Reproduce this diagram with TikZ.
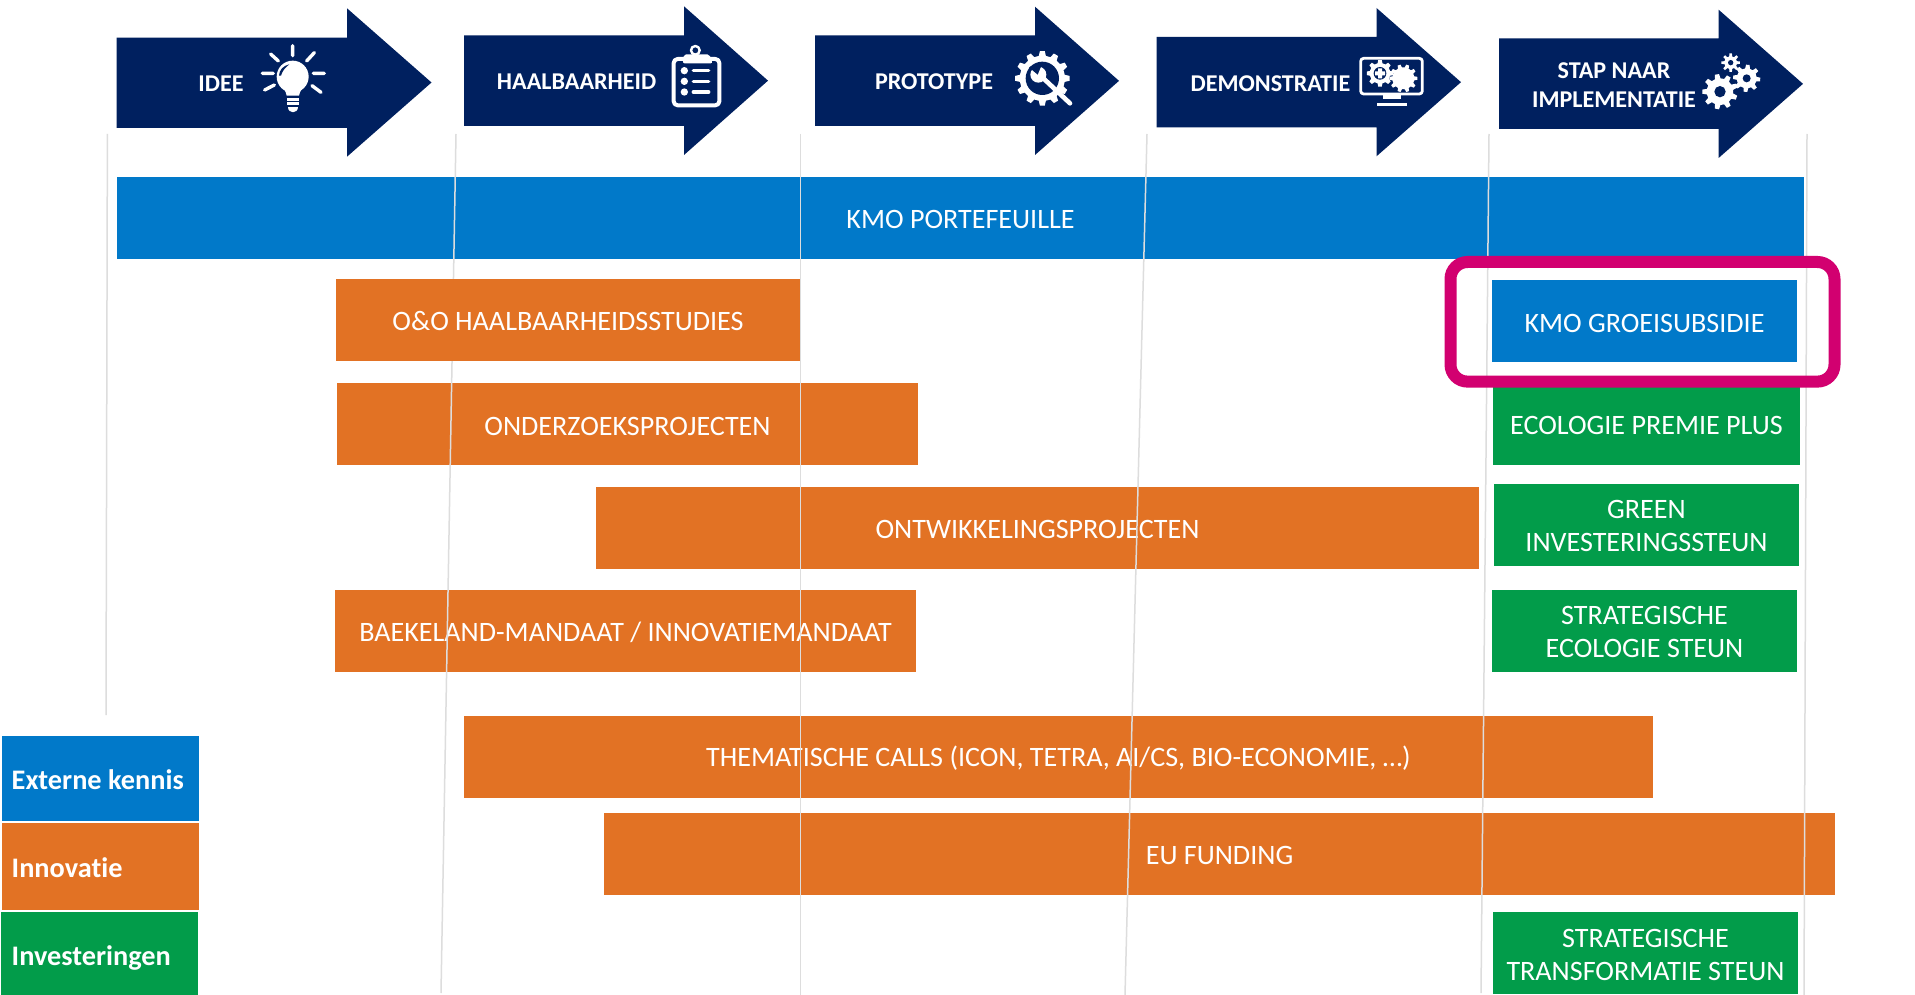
\documentclass[tikz,border=0pt]{standalone}
\usepackage{fontspec}
\setmainfont[Ligatures=NoCommon]{Carlito}
\usetikzlibrary{calc}
\definecolor{navy}{HTML}{00205F}
\definecolor{kblue}{HTML}{0179C9}
\definecolor{korange}{HTML}{E27224}
\definecolor{kgreen}{HTML}{029C4A}
\definecolor{kmag}{HTML}{D20070}
\definecolor{kgrey}{HTML}{DDDDDD}
\tikzset{
  bar/.style={anchor=north west,inner sep=0pt,outer sep=0pt,minimum height=82pt},
  bartext/.style={text=white,align=center,inner sep=0pt,
    font=\fontsize{28.1}{33}\selectfont},
  orangebar/.style={bar,fill=korange},
  bluebar/.style={bar,fill=kblue},
  greenbar/.style={bar,fill=kgreen},
  arrowlabel/.style={text=white,align=center,inner sep=0pt,
    font=\fontsize{24.1}{28.5}\selectfont\bfseries},
  legendbox/.style={anchor=north west,inner sep=0pt,outer sep=0pt},
  legendlabel/.style={anchor=west,inner sep=0pt,text=white,
    font=\fontsize{28.3}{33}\selectfont\bfseries},
  stage/.style={fill=navy},
  phase line/.style={draw=kgrey,line width=1.5pt},
  iconline/.style={draw=white,line cap=round,line join=round},
  iconzoom/.style={x=.33333pt,y=-.33333pt},
}
% style, name, x, y, width, text shift, text
\newcommand{\mybar}[7]{%
  \node[#1,minimum width=#5pt] (#2) at (#3,#4) {};
  \node[bartext] (#2-t) at ($(#2.center)+(0,#6)$) {#7};}
% gear: centre x, centre y, outer r, root r, teeth, rotation
\newcommand{\mygear}[6]{%
  \fill[white] ($(#1,#2)+({#6-.30*360/#5}:#4)$)
    \foreach \k in {1,...,#5}{
      -- ($(#1,#2)+({#6+(\k-1)*360/#5-.30*360/#5}:#4)$)
      -- ($(#1,#2)+({#6+(\k-1)*360/#5-.17*360/#5}:#3)$)
      -- ($(#1,#2)+({#6+(\k-1)*360/#5+.17*360/#5}:#3)$)
      -- ($(#1,#2)+({#6+(\k-1)*360/#5+.30*360/#5}:#4)$)
    } -- cycle;}
\newcommand{\mystagearrow}[7]{% left neck tip shafttop shaftbot headtop headbot
  \fill[stage] (#1,#4) -- (#2,#4) -- (#2,#6) -- (#3,{(#6+#7)/2}) -- (#2,#7) -- (#2,#5) -- (#1,#5) -- cycle;}
\begin{document}
\begin{tikzpicture}[x=1pt,y=-1pt]
\useasboundingbox (0,0) rectangle (1915,995);
\fill[white] (0,0) rectangle (1915,995);

% stage arrows
\mystagearrow{116.5}{347}{431.5}{37.7}{128}{8.3}{156.7}
\mystagearrow{464}{684}{768}{35.3}{126}{6.3}{155}
\mystagearrow{815}{1035}{1119}{35.3}{126}{6.7}{155}
\mystagearrow{1156.7}{1376.5}{1461}{37}{127.3}{8}{156.3}
\mystagearrow{1499}{1718.6}{1803}{38.3}{129}{9.7}{158}

\node[arrowlabel] (idee) at (221,83.5) {IDEE};
\node[arrowlabel] (haal) at (576.6,82) {HAALBAARHEID};
\node[arrowlabel] (proto) at (934,82) {PROTOTYPE};
\node[arrowlabel] (demo) at (1270.4,83.5) {DEMONSTRATIE};
\node[arrowlabel] (stap) at (1614,85) {STAP NAAR\\IMPLEMENTATIE};

% bulb
\begin{scope}[shift={(250,35)},iconzoom]
  \fill[white] (128,125) circle (48);
  \fill[white] (98,155) .. controls (108,170) and (108,175) .. (110,182) -- (147,182) .. controls (149,175) and (149,170) .. (160,155) -- cycle;
  \fill[white] (112,188) rectangle (146,197);
  \fill[white] (112,202) rectangle (146,211);
  \fill[white] (114,216) -- (144,216) .. controls (144,238) and (114,238) .. (114,216) -- cycle;
  \fill[navy] (87,122) .. controls (88,104) and (100,92) .. (118,88) .. controls (105,98) and (97,108) .. (93,122) -- cycle;
  \draw[iconline,line width=3.4pt] (128,32) -- (128,62)
    (62,57) -- (85,78) (193,53) -- (170,78)
    (37,115) -- (70,115) (190,115) -- (223,115)
    (44,165) -- (73,150) (213,172) -- (186,152);
\end{scope}
% clipboard
\begin{scope}[shift={(660,35)},iconzoom]
  \draw[iconline,line width=4pt,rounded corners=4pt] (41,72) rectangle (178,211);
  \draw[iconline,line width=2.4pt] (106,46) circle (13);
  \fill[white,rounded corners=2pt] (72,58) -- (148,58) -- (158,85) -- (68,85) -- cycle;
  \fill[white] (73,107) circle (11) (73,139) circle (11) (73,171) circle (11);
  \draw[iconline,line width=3.4pt] (100,107) -- (146,107) (100,139) -- (146,139) (100,171) -- (146,171);
\end{scope}
% gear with wrench
\begin{scope}[shift={(1005,40)},iconzoom]
  \mygear{112}{115}{82}{68}{12}{0}
  \fill[navy] (112,115) circle (50);
  \draw[iconline,line width=4.6pt] (115,115) -- (195,190);
  \fill[white] (100,104) circle (24);
  \fill[navy] (98,104) -- (72,82) -- (92,72) -- (108,80) -- cycle;
\end{scope}
% monitor with gears
\begin{scope}[shift={(1350,40)},iconzoom]
  \draw[iconline,line width=2.8pt,rounded corners=3pt] (32,55) rectangle (217,162);
  \fill[white] (100,164) rectangle (152,178);
  \fill[white] (80,188) rectangle (172,198);
  \mygear{90}{100}{40}{31}{8}{0}
  \fill[navy] (90,100) circle (19);
  \fill[white] (84,85) rectangle (96,115) (75,94) rectangle (105,106);
  \mygear{160}{115}{42}{33}{10}{0}
\end{scope}
% three gears
\begin{scope}[shift={(1695,45)},iconzoom]
  \mygear{75}{140}{53}{40}{9}{20}
  \fill[navy] (75,140) circle (17);
  \mygear{155}{100}{41}{30}{8}{5}
  \fill[navy] (155,100) circle (12);
  \mygear{107}{53}{28}{19}{8}{0}
  \fill[navy] (107,53) circle (8);
\end{scope}

% bars below the phase lines
\mybar{bluebar}{port}{117}{177}{1687}{1.2}{KMO PORTEFEUILLE}
\mybar{orangebar}{onder}{337}{383.3}{581}{2.2}{ONDERZOEKSPROJECTEN}
\mybar{orangebar}{ontw}{596}{487}{883}{1.2}{ONTWIKKELINGSPROJECTEN}
\mybar{orangebar}{baek}{335}{590.4}{581}{0.8}{BAEKELAND-MANDAAT / INNOVATIEMANDAAT}
\mybar{orangebar}{them}{464}{715.8}{1189}{1.7}{THEMATISCHE CALLS (ICON, TETRA, AI/CS, BIO-ECONOMIE, …)}
\mybar{orangebar}{eu}{604}{812.8}{1231}{1.7}{EU FUNDING}

% phase lines
\coordinate (a1) at (107.4,134); \coordinate (b1) at (106,715);
\coordinate (a2) at (456,134);   \coordinate (b2) at (441,993);
\coordinate (a3) at (800.7,134); \coordinate (b3) at (800.7,995);
\coordinate (a4) at (1147,134);  \coordinate (b4) at (1125,995);
\coordinate (a5) at (1489,134);  \coordinate (b5) at (1481,993);
\coordinate (a6) at (1807,134);  \coordinate (b6) at (1804,995);
\foreach \n in {1,...,6}{\draw[phase line] (a\n) -- (b\n);}

% bars above the phase lines
\mybar{orangebar}{oo}{336}{279}{464}{0.7}{O\&O HAALBAARHEIDSSTUDIES}
\mybar{bluebar}{groei}{1492}{280}{305}{2.4}{KMO GROEISUBSIDIE}
\mybar{greenbar}{premie}{1493}{383}{307}{1.2}{ECOLOGIE PREMIE PLUS}
\mybar{greenbar}{green}{1494}{484}{305}{1.2}{GREEN\\INVESTERINGSSTEUN}
\mybar{greenbar}{ecost}{1492}{590.4}{305}{0.8}{STRATEGISCHE\\ECOLOGIE STEUN}
\mybar{greenbar}{trans}{1493}{911.8}{305}{1.7}{STRATEGISCHE\\TRANSFORMATIE STEUN}

% highlight
\draw[kmag,line width=12pt,rounded corners=17pt] (1450.5,262) rectangle (1834.5,381.6);

% legend
\node[legendbox,fill=kblue,minimum width=197pt,minimum height=85.7pt] (lb) at (2,735.7) {};
\node[legendbox,fill=korange,minimum width=197pt,minimum height=87pt] (lo) at (2,822.7) {};
\node[legendbox,fill=kgreen,minimum width=197pt,minimum height=84pt] (lg) at (1,911.7) {};
\node[legendlabel] (lbt) at (11.5,779.5) {Externe kennis};
\node[legendlabel] (lot) at (11.5,867.7) {Innovatie};
\node[legendlabel] (lgt) at (11.5,958) {Investeringen};
\end{tikzpicture}
\end{document}
